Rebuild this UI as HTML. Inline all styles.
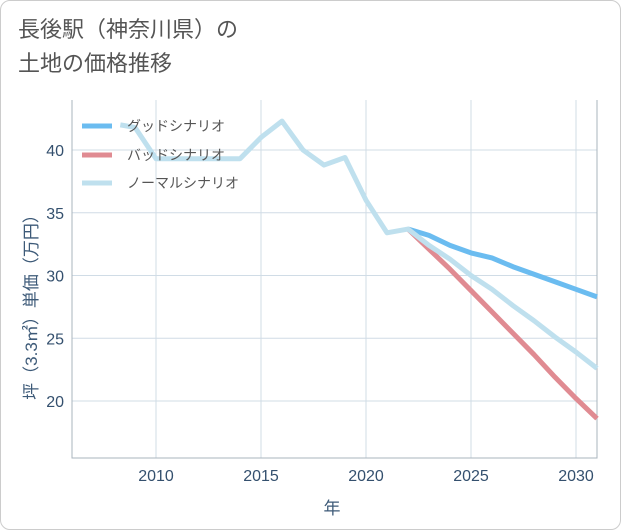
<!DOCTYPE html>
<html><head><meta charset="utf-8"><style>
body{margin:0;background:#fff;font-family:"Liberation Sans","Noto Sans CJK JP",sans-serif;}
#card{position:absolute;left:0;top:0;width:619px;height:528px;border:1px solid #ccc;border-radius:10px;}
#title{position:absolute;left:18px;top:13px;font-size:22px;line-height:34px;color:#555;}
svg{position:absolute;left:0;top:0}
</style></head><body>
<div id="card"></div>
<div id="title">長後駅（神奈川県）の<br>土地の価格推移</div>
<svg id="chart" width="621" height="530"></svg>
<script>
const xTicks=[2010,2015,2020,2025,2030];
const yTicks=[20,25,30,35,40];
const normalYears=[2008.3,2009,2010,2011,2012,2013,2014,2015,2016,2017,2018,2019,2020,2021,2022,2023,2024,2025,2026,2027,2028,2029,2030,2031];
const normalValues=[42.0,41.8,39.3,39.3,39.3,39.3,39.3,41.0,42.3,40.0,38.8,39.4,36.0,33.4,33.7,32.4,31.3,30.0,28.9,27.6,26.4,25.1,23.9,22.6];
const futureYears=[2022,2023,2024,2025,2026,2027,2028,2029,2030,2031];
const goodValues=[33.7,33.2,32.4,31.8,31.4,30.7,30.1,29.5,28.9,28.3];
const badValues=[33.7,32.1,30.5,28.8,27.1,25.4,23.7,21.9,20.2,18.6];
const L=72,R=597,T=100,B=458;
const xs=y=>L+(y-2006)*(R-L)/25;
const ys=v=>150+(40-v)*(401-150)/20;
const svg=document.getElementById('chart');
const NS='http://www.w3.org/2000/svg';
function mk(t,a){const e=document.createElementNS(NS,t);for(const k in a)e.setAttribute(k,a[k]);svg.appendChild(e);return e;}
xTicks.forEach(t=>{const l=mk('line',{x1:xs(t),x2:xs(t),y1:T,y2:B,stroke:'#d0dce6','stroke-width':1});


const tx=mk('text',{x:xs(t),y:481,'text-anchor':'middle','font-size':16,fill:'#34506e'});tx.textContent=t;

});
yTicks.forEach(t=>{const l=mk('line',{x1:L,x2:R,y1:ys(t),y2:ys(t),stroke:'#d0dce6','stroke-width':1});


const tx=mk('text',{x:64,y:ys(t)+6,'text-anchor':'end','font-size':16,fill:'#34506e'});tx.textContent=t;

});
const ax=mk('path',{d:`M${L},${T}V${B}H${R}V${T}`,fill:'none',stroke:'#aab4bd','stroke-width':1});


function line(xv,yv,c,name){const p=mk('polyline',{points:xv.map((x,i)=>xs(x)+','+ys(yv[i])).join(' '),fill:'none',stroke:c,'stroke-width':5,'stroke-linejoin':'round'});

}
line(futureYears,goodValues,'#6bbcf0','good-scenario-line');
line(futureYears,badValues,'#e08b92','bad-scenario-line');
line(normalYears,normalValues,'#bfe0ee','normal-scenario-line');
const leg=[['グッドシナリオ','#6bbcf0',126],['バッドシナリオ','#e08b92',155],['ノーマルシナリオ','#bfe0ee',183]];
leg.forEach(([n,c,y])=>{const l=mk('line',{x1:82,x2:112,y1:y,y2:y,stroke:c,'stroke-width':5});


const t=mk('text',{x:127,y:y+5,'font-size':14,fill:'#555'});t.textContent=n;

});
const xt=mk('text',{x:332,y:514,'text-anchor':'middle','font-size':17,fill:'#3d5a78'});xt.textContent='年';


const yt=mk('text',{x:0,y:0,'text-anchor':'middle','font-size':17,fill:'#3d5a78',transform:'translate(37,303) rotate(-90)'});yt.textContent='坪（3.3㎡）単価（万円）';


</script>
</body></html>
